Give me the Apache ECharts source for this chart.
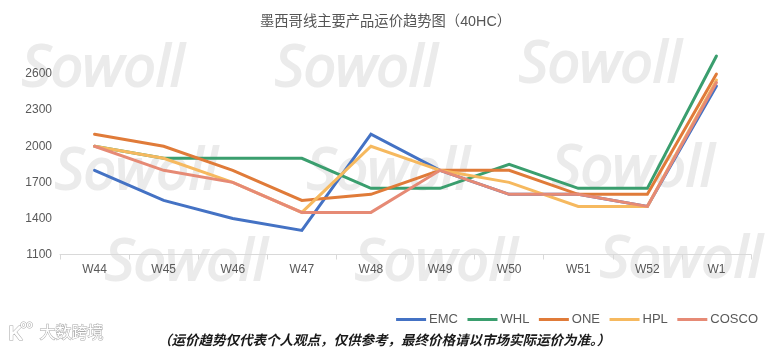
<!DOCTYPE html>
<html>
<head>
<meta charset="utf-8">
<title>墨西哥线主要产品运价趋势图</title>
<style>
html, body { margin: 0; padding: 0; background: #fff; }
#chart { width: 774px; height: 353px; }
</style>
<script src="https://cdn.jsdelivr.net/npm/echarts@6/dist/echarts.min.js"></script>
</head>
<body>
<div id="chart"></div>
<script>
var categories = ['W44', 'W45', 'W46', 'W47', 'W48', 'W49', 'W50', 'W51', 'W52', 'W1']
var yTicks = [1100, 1400, 1700, 2000, 2300, 2600]

var emc = [1800, 1550, 1400, 1300, 2100, 1800, 1600, 1600, 1500, 2500]
var whl = [2000, 1900, 1900, 1900, 1650, 1650, 1850, 1650, 1650, 2750]
var one = [2100, 2000, 1800, 1550, 1600, 1800, 1800, 1600, 1600, 2600]
var hpl = [2000, 1900, 1700, 1450, 2000, 1800, 1700, 1500, 1500, 2550]
var cosco = [2000, 1800, 1700, 1450, 1450, 1800, 1600, 1600, 1500, 2530]

var seriesNames = ['EMC', 'WHL', 'ONE', 'HPL', 'COSCO']
var seriesData = [emc, whl, one, hpl, cosco]
var seriesColors = ['#4472c4', '#3a9e6e', '#e07b39', '#f6b95f', '#e68a75']

var titleText = '墨西哥线主要产品运价趋势图（40HC）'
var noteText = '（运价趋势仅代表个人观点，仅供参考，最终价格请以市场实际运价为准。）'
var markText = 'Sowoll'
var logoText = '大数跨境'

var fontFamily = 'Arial, "Liberation Sans", "Noto Sans CJK SC", sans-serif'

// 水印位置，[左, 上]
var markPos = [
    [21, 40], [274, 40], [518, 36],
    [54, 143], [306, 143], [551, 140],
    [104, 234], [354, 234], [599, 231]
]

var chart = echarts.init(document.getElementById('chart'), null, { renderer: 'canvas' })

var graphics = markPos.map(function(p) {
    return {
        type: 'text',
        z: -1,
        left: p[0],
        top: p[1],
        silent: true,
        style: {
            text: markText,
            fill: '#ebebeb',
            stroke: '#ebebeb',
            lineWidth: 2,
            font: 'italic 500 57px "Open Sans", sans-serif'
        }
    }
})

graphics.push({
    type: 'text',
    left: 39,
    top: 323,
    style: {
        text: logoText,
        fill: '#fff',
        stroke: '#a8a8a8',
        lineWidth: 1,
        font: '16px "Noto Sans CJK SC", sans-serif'
    }
})
graphics.push({
    type: 'text',
    left: 8,
    top: 324,
    style: {
        text: 'K',
        fill: '#fff',
        stroke: '#a8a8a8',
        lineWidth: 1,
        font: 'bold 20px "Liberation Sans", sans-serif'
    }
})
graphics.push({
    type: 'text',
    left: 20,
    top: 320,
    style: {
        text: 'oo',
        fill: '#fff',
        stroke: '#a8a8a8',
        lineWidth: 1,
        font: 'bold 10px "Liberation Sans", sans-serif'
    }
})
graphics.push({
    type: 'text',
    left: 158,
    top: 333,
    style: {
        text: noteText,
        fill: '#1a1a1a',
        font: 'italic bold 13.5px "Noto Sans CJK SC", sans-serif'
    }
})

var options = {
    animation: false,
    backgroundColor: '#fff',
    color: seriesColors,
    title: {
        text: titleText,
        left: 255,
        top: 10,
        textStyle: {
            color: '#555',
            fontSize: 14.3,
            fontWeight: 'normal',
            fontFamily: fontFamily
        }
    },
    legend: {
        data: seriesNames,
        right: 11,
        top: 308,
        itemWidth: 30,
        itemHeight: 3,
        itemGap: 9.5,
        icon: 'rect',
        textStyle: {
            color: '#595959',
            fontSize: 13,
            fontFamily: fontFamily,
            padding: [0, 0, 0, -2]
        }
    },
    grid: {
        left: 60,
        right: 23,
        top: 38,
        bottom: 98.5,
        containLabel: false
    },
    xAxis: {
        type: 'category',
        data: categories,
        boundaryGap: true,
        axisLine: { lineStyle: { color: '#d9d9d9', width: 1 } },
        axisTick: { show: true, length: 5, lineStyle: { color: '#d9d9d9' } },
        axisLabel: {
            color: '#595959',
            fontSize: 12,
            margin: 9,
            fontFamily: fontFamily
        },
        splitLine: { show: false }
    },
    yAxis: {
        type: 'value',
        min: 1100,
        max: 2900,
        interval: 300,
        axisLine: { show: false },
        axisTick: { show: false },
        splitLine: { show: false },
        axisLabel: {
            // 顶部刻度不显示
            formatter: function(value) {
                return yTicks.indexOf(value) > -1 ? String(value) : ''
            },
            color: '#595959',
            fontSize: 12,
            margin: 8,
            fontFamily: fontFamily
        }
    },
    graphic: graphics,
    series: seriesNames.map(function(name, index) {
        return {
            name: name,
            type: 'line',
            data: seriesData[index],
            showSymbol: false,
            symbol: 'none',
            smooth: false,
            lineStyle: { width: 3, color: seriesColors[index], cap: 'round', join: 'miter' }
        }
    })
}

chart.setOption(options)
</script>
</body>
</html>
